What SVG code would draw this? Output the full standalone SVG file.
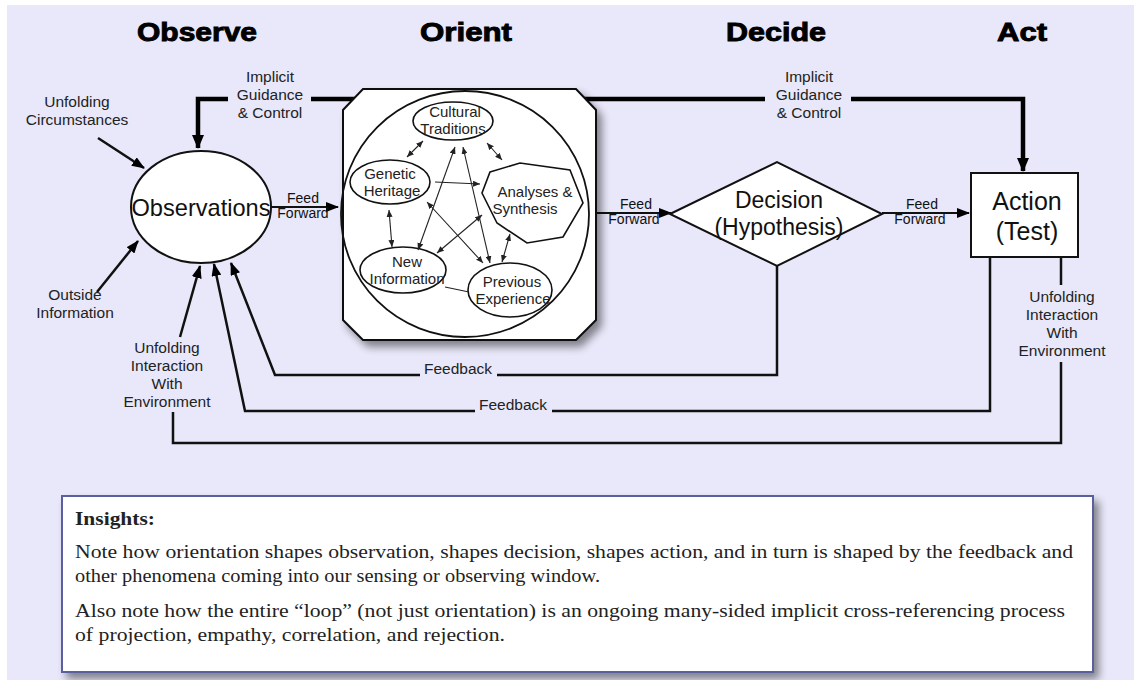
<svg xmlns="http://www.w3.org/2000/svg" width="1134" height="680" viewBox="0 0 1134 680">
<style>
  .hdr{font-family:"Liberation Sans",Arial,sans-serif;font-weight:900;font-size:25px;fill:#000;stroke:#000;stroke-width:0.9;text-anchor:middle}
  .lbl{font-family:"Liberation Sans",Arial,sans-serif;font-size:15.5px;fill:#222;text-anchor:middle}
  .ff{font-family:"Liberation Sans",Arial,sans-serif;font-size:14px;fill:#111;text-anchor:middle}
  .inner{font-family:"Liberation Sans",Arial,sans-serif;font-size:15px;fill:#222;text-anchor:middle}
  .big{font-family:"Liberation Sans",Arial,sans-serif;fill:#111;text-anchor:middle}
  .node{fill:#fff;stroke:#111;stroke-width:2}
  .thick{fill:none;stroke:#000;stroke-width:4.5}
  .med{fill:none;stroke:#111;stroke-width:2.5}
  .thin{fill:none;stroke:#111;stroke-width:2}
  .tiny{fill:none;stroke:#222;stroke-width:1.1}
  .ins{font-family:"Liberation Serif","Times New Roman",serif;font-size:19.5px;fill:#222}
</style>
<defs>
  <marker id="ahBig" markerUnits="userSpaceOnUse" markerWidth="14" markerHeight="12" refX="13" refY="6" orient="auto">
    <path d="M0,0 L14,6 L0,12 z" fill="#000"/>
  </marker>
  <marker id="ahMed" markerUnits="userSpaceOnUse" markerWidth="13" markerHeight="10" refX="12" refY="5" orient="auto">
    <path d="M0,0 L13,5 L0,10 z" fill="#000"/>
  </marker>
  <marker id="ahSm" markerUnits="userSpaceOnUse" markerWidth="7" markerHeight="6" refX="7" refY="3" orient="auto-start-reverse">
    <path d="M0,0 L7,3 L0,6 z" fill="#222"/>
  </marker>
  <filter id="shadow" x="-10%" y="-10%" width="130%" height="130%">
    <feGaussianBlur in="SourceAlpha" stdDeviation="4"/>
    <feOffset dx="5" dy="6" result="b"/>
    <feComponentTransfer><feFuncA type="linear" slope="0.45"/></feComponentTransfer>
    <feMerge><feMergeNode/><feMergeNode in="SourceGraphic"/></feMerge>
  </filter>
</defs>

<rect x="0" y="0" width="1134" height="680" fill="#fff"/>
<rect x="7" y="5" width="1127" height="675" fill="#E8E8FA"/>

<!-- Headers -->
<g id="headers">
  <text class="hdr" x="197" y="41" textLength="120" lengthAdjust="spacingAndGlyphs">Observe</text>
  <text class="hdr" x="466" y="41" textLength="92" lengthAdjust="spacingAndGlyphs">Orient</text>
  <text class="hdr" x="776" y="41" textLength="100" lengthAdjust="spacingAndGlyphs">Decide</text>
  <text class="hdr" x="1022" y="41" textLength="50" lengthAdjust="spacingAndGlyphs">Act</text>
</g>

<!-- Connectors -->
<g id="connectors">
  <!-- Implicit guidance top line -->
  <path class="thick" d="M228,99 H198 V148" marker-end="url(#ahBig)"/>
  <path class="thick" d="M311,99 H765"/>
  <path class="thick" d="M851,99 H1023 V171" marker-end="url(#ahBig)"/>
  <!-- Unfolding circumstances / outside information -->
  <path class="med" d="M98,138 L144,168" marker-end="url(#ahMed)"/>
  <path class="med" d="M97,292 L138,241" marker-end="url(#ahMed)"/>
  <!-- Feed forwards -->
  <path class="thin" d="M269,207 H338" marker-end="url(#ahMed)"/>
  <path class="thin" d="M597,213 H671" marker-end="url(#ahMed)"/>
  <path class="thin" d="M882,213 H969" marker-end="url(#ahMed)"/>
  <!-- Feedback from Decision -->
  <path class="med" d="M777,266 V375 H497"/>
  <path class="med" d="M420,375 H275 L231,263" marker-end="url(#ahMed)"/>
  <!-- Feedback from Action -->
  <path class="med" d="M990,257 V411 H552"/>
  <path class="med" d="M475,411 H245 L214,264" marker-end="url(#ahMed)"/>
  <!-- Unfolding interaction with environment -->
  <path class="med" d="M1061,257 V285"/>
  <path class="med" d="M1061,362 V443 H173 V412"/>
  <path class="med" d="M180,337 L200,266" marker-end="url(#ahMed)"/>
</g>

<!-- Labels on connectors -->
<g id="labels">
  <text class="lbl" x="77" y="107">Unfolding</text>
  <text class="lbl" x="77" y="125">Circumstances</text>
  <text class="lbl" x="270" y="82">Implicit</text>
  <text class="lbl" x="270" y="100">Guidance</text>
  <text class="lbl" x="270" y="118">&amp; Control</text>
  <text class="lbl" x="809" y="82">Implicit</text>
  <text class="lbl" x="809" y="100">Guidance</text>
  <text class="lbl" x="809" y="118">&amp; Control</text>
  <text class="lbl" x="75" y="300">Outside</text>
  <text class="lbl" x="75" y="318">Information</text>
  <text class="lbl" x="167" y="353">Unfolding</text>
  <text class="lbl" x="167" y="371">Interaction</text>
  <text class="lbl" x="167" y="389">With</text>
  <text class="lbl" x="167" y="407">Environment</text>
  <text class="lbl" x="1062" y="302">Unfolding</text>
  <text class="lbl" x="1062" y="320">Interaction</text>
  <text class="lbl" x="1062" y="338">With</text>
  <text class="lbl" x="1062" y="356">Environment</text>
  <text class="lbl" x="458" y="374">Feedback</text>
  <text class="lbl" x="513" y="410">Feedback</text>
  <text class="ff" x="303" y="203">Feed</text>
  <text class="ff" x="303" y="218">Forward</text>
  <text class="ff" x="636" y="209">Feed</text>
  <text class="ff" x="634" y="224">Forward</text>
  <text class="ff" x="922" y="209">Feed</text>
  <text class="ff" x="920" y="224">Forward</text>
</g>

<!-- Observations -->
<g id="observations">
  <ellipse class="node" cx="201" cy="207" rx="70" ry="56"/>
  <text class="big" x="201" y="216" font-size="24" textLength="139" lengthAdjust="spacingAndGlyphs">Observations</text>
</g>

<!-- Orient -->
<g id="orient">
  <polygon class="node" points="363,89 576,89 596,110 596,320 576,340 363,340 343,320 343,110" filter="url(#shadow)"/>
  <ellipse fill="none" stroke="#111" stroke-width="1.8" cx="465" cy="214" rx="124" ry="123"/>
  <g id="cultural-traditions">
    <ellipse fill="#fff" stroke="#111" stroke-width="1.6" cx="453" cy="121" rx="40" ry="19"/>
    <text class="inner" x="455" y="117">Cultural</text>
    <text class="inner" x="453" y="134">Traditions</text>
  </g>
  <g id="genetic-heritage">
    <ellipse fill="#fff" stroke="#111" stroke-width="1.6" cx="390" cy="182" rx="40" ry="22"/>
    <text class="inner" x="390" y="179">Genetic</text>
    <text class="inner" x="392" y="196">Heritage</text>
  </g>
  <g id="analyses-synthesis">
    <polygon fill="#fff" stroke="#111" stroke-width="1.6" points="490,172 520,163 570,170 583,203 563,237 527,243 497,223 482,193"/>
    <text class="inner" x="535" y="197">Analyses &amp;</text>
    <text class="inner" x="525" y="214">Synthesis</text>
  </g>
  <g id="new-information">
    <ellipse fill="#fff" stroke="#111" stroke-width="1.6" cx="403" cy="270" rx="43" ry="23"/>
    <text class="inner" x="407" y="267">New</text>
    <text class="inner" x="407" y="284">Information</text>
  </g>
  <g id="previous-experience">
    <ellipse fill="#fff" stroke="#111" stroke-width="1.6" cx="510" cy="290" rx="42" ry="27"/>
    <text class="inner" x="512" y="287">Previous</text>
    <text class="inner" x="513" y="304">Experience</text>
  </g>
  <g id="orient-links">
    <path class="tiny" d="M423,141 L407,157" marker-start="url(#ahSm)" marker-end="url(#ahSm)"/>
    <path class="tiny" d="M487,143 L502,160" marker-start="url(#ahSm)" marker-end="url(#ahSm)"/>
    <path class="tiny" d="M435,182 L480,184" marker-end="url(#ahSm)"/>
    <path class="tiny" d="M389,210 L392,247" marker-start="url(#ahSm)" marker-end="url(#ahSm)"/>
    <path class="tiny" d="M427,202 L483,263" marker-start="url(#ahSm)" marker-end="url(#ahSm)"/>
    <path class="tiny" d="M455,147 L418,250" marker-start="url(#ahSm)" marker-end="url(#ahSm)"/>
    <path class="tiny" d="M463,147 L490,263" marker-start="url(#ahSm)" marker-end="url(#ahSm)"/>
    <path class="tiny" d="M437,253 L482,215" marker-start="url(#ahSm)" marker-end="url(#ahSm)"/>
    <path class="tiny" d="M510,234 L502,262" marker-start="url(#ahSm)" marker-end="url(#ahSm)"/>
    <path class="tiny" d="M445,287 L469,292"/>
  </g>
</g>

<!-- Decision -->
<g id="decision">
  <polygon class="node" points="670,214 777,162 882,214 777,266"/>
  <text class="big" x="779" y="208" font-size="23">Decision</text>
  <text class="big" x="779" y="235" font-size="23">(Hypothesis)</text>
</g>

<!-- Action -->
<g id="action">
  <rect class="node" x="971" y="173" width="107" height="84"/>
  <text class="big" x="1027" y="210" font-size="25">Action</text>
  <text class="big" x="1027" y="240" font-size="25">(Test)</text>
</g>

<!-- Insights -->
<g id="insights">
  <rect x="62" y="496" width="1031" height="176" fill="#fff" stroke="#5A5FA0" stroke-width="2" filter="url(#shadow)"/>
  <text class="ins" x="75" y="525" font-weight="bold" textLength="80" lengthAdjust="spacingAndGlyphs">Insights:</text>
  <text class="ins" x="75" y="558" textLength="998" lengthAdjust="spacingAndGlyphs">Note how orientation shapes observation, shapes decision, shapes action, and in turn is shaped by the feedback and</text>
  <text class="ins" x="75" y="582" textLength="525" lengthAdjust="spacingAndGlyphs">other phenomena coming into our sensing or observing window.</text>
  <text class="ins" x="75" y="617" textLength="990" lengthAdjust="spacingAndGlyphs">Also note how the entire “loop” (not just orientation) is an ongoing many-sided implicit cross-referencing process</text>
  <text class="ins" x="75" y="641" textLength="430" lengthAdjust="spacingAndGlyphs">of projection, empathy, correlation, and rejection.</text>
</g>
</svg>
